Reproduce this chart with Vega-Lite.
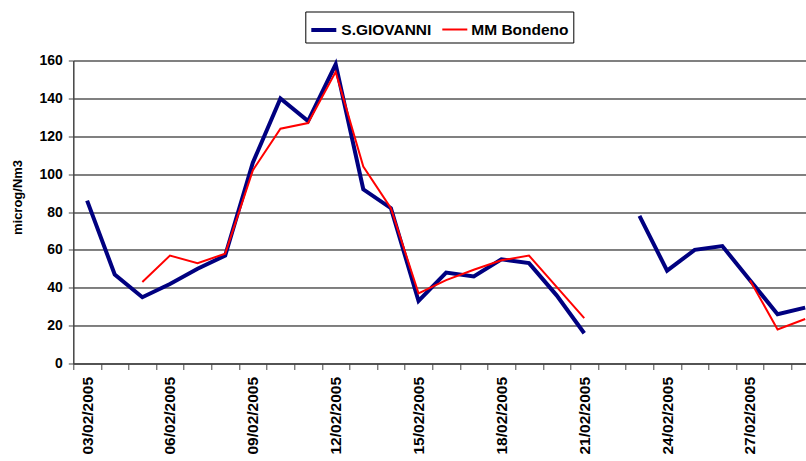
{
  "$schema": "https://vega.github.io/schema/vega-lite/v6.json",
  "autosize": "none",
  "width": 733,
  "height": 303,
  "padding": {"left": 73.3, "top": 60.5, "right": 0, "bottom": 97.5},
  "background": "white",
  "config": {"view": {"stroke": null}, "font": "Liberation Sans"},
  "data": {"values": [
    {"date": "2005-02-03", "series": "S.GIOVANNI", "value": 86},
    {"date": "2005-02-04", "series": "S.GIOVANNI", "value": 47},
    {"date": "2005-02-05", "series": "S.GIOVANNI", "value": 35},
    {"date": "2005-02-06", "series": "S.GIOVANNI", "value": 42},
    {"date": "2005-02-07", "series": "S.GIOVANNI", "value": 50},
    {"date": "2005-02-08", "series": "S.GIOVANNI", "value": 57},
    {"date": "2005-02-09", "series": "S.GIOVANNI", "value": 106},
    {"date": "2005-02-10", "series": "S.GIOVANNI", "value": 140},
    {"date": "2005-02-11", "series": "S.GIOVANNI", "value": 128},
    {"date": "2005-02-12", "series": "S.GIOVANNI", "value": 158},
    {"date": "2005-02-13", "series": "S.GIOVANNI", "value": 92},
    {"date": "2005-02-14", "series": "S.GIOVANNI", "value": 82},
    {"date": "2005-02-15", "series": "S.GIOVANNI", "value": 33},
    {"date": "2005-02-16", "series": "S.GIOVANNI", "value": 48},
    {"date": "2005-02-17", "series": "S.GIOVANNI", "value": 46},
    {"date": "2005-02-18", "series": "S.GIOVANNI", "value": 55},
    {"date": "2005-02-19", "series": "S.GIOVANNI", "value": 53},
    {"date": "2005-02-20", "series": "S.GIOVANNI", "value": 36},
    {"date": "2005-02-21", "series": "S.GIOVANNI", "value": 16},
    {"date": "2005-02-22", "series": "S.GIOVANNI", "value": null},
    {"date": "2005-02-23", "series": "S.GIOVANNI", "value": 78},
    {"date": "2005-02-24", "series": "S.GIOVANNI", "value": 49},
    {"date": "2005-02-25", "series": "S.GIOVANNI", "value": 60},
    {"date": "2005-02-26", "series": "S.GIOVANNI", "value": 62},
    {"date": "2005-02-27", "series": "S.GIOVANNI", "value": 44},
    {"date": "2005-02-28", "series": "S.GIOVANNI", "value": 26},
    {"date": "2005-03-01", "series": "S.GIOVANNI", "value": 29.5},
    {"date": "2005-02-03", "series": "MM Bondeno", "value": null},
    {"date": "2005-02-04", "series": "MM Bondeno", "value": null},
    {"date": "2005-02-05", "series": "MM Bondeno", "value": 43},
    {"date": "2005-02-06", "series": "MM Bondeno", "value": 57},
    {"date": "2005-02-07", "series": "MM Bondeno", "value": 53},
    {"date": "2005-02-08", "series": "MM Bondeno", "value": 58},
    {"date": "2005-02-09", "series": "MM Bondeno", "value": 102},
    {"date": "2005-02-10", "series": "MM Bondeno", "value": 124},
    {"date": "2005-02-11", "series": "MM Bondeno", "value": 127},
    {"date": "2005-02-12", "series": "MM Bondeno", "value": 154},
    {"date": "2005-02-13", "series": "MM Bondeno", "value": 104},
    {"date": "2005-02-14", "series": "MM Bondeno", "value": 82},
    {"date": "2005-02-15", "series": "MM Bondeno", "value": 37},
    {"date": "2005-02-16", "series": "MM Bondeno", "value": 44},
    {"date": "2005-02-17", "series": "MM Bondeno", "value": 49.5},
    {"date": "2005-02-18", "series": "MM Bondeno", "value": 54.5},
    {"date": "2005-02-19", "series": "MM Bondeno", "value": 57},
    {"date": "2005-02-20", "series": "MM Bondeno", "value": 40.5},
    {"date": "2005-02-21", "series": "MM Bondeno", "value": 24},
    {"date": "2005-02-22", "series": "MM Bondeno", "value": null},
    {"date": "2005-02-23", "series": "MM Bondeno", "value": null},
    {"date": "2005-02-24", "series": "MM Bondeno", "value": null},
    {"date": "2005-02-25", "series": "MM Bondeno", "value": null},
    {"date": "2005-02-26", "series": "MM Bondeno", "value": null},
    {"date": "2005-02-27", "series": "MM Bondeno", "value": 44},
    {"date": "2005-02-28", "series": "MM Bondeno", "value": 18},
    {"date": "2005-03-01", "series": "MM Bondeno", "value": 23.5}
  ]},
  "mark": {"type": "line", "invalid": "break-paths-show-domains", "strokeJoin": "miter", "strokeCap": "butt"},
  "encoding": {
    "x": {
      "field": "date", "type": "ordinal", "sort": "ascending", "bandPosition": 0.5,
      "scale": {"type": "band", "paddingInner": 0, "paddingOuter": 0, "range": [0, 745.7]},
      "axis": {
        "title": null, "tickBand": "extent", "grid": false,
        "domainColor": "#444", "domainWidth": 1.5, "tickColor": "#444", "tickWidth": 1, "tickSize": 6,
        "labelAngle": 270, "labelAlign": "right", "labelBaseline": "middle", "labelPadding": 7,
        "labelFont": "Liberation Sans", "labelFontSize": 15.5, "labelFontWeight": "bold", "labelColor": "black",
        "labelOverlap": false,
        "labelExpr": "indexof(['2005-02-03','2005-02-06','2005-02-09','2005-02-12','2005-02-15','2005-02-18','2005-02-21','2005-02-24','2005-02-27'], datum.value) >= 0 ? substring(datum.value,8,10) + '/' + substring(datum.value,5,7) + '/' + substring(datum.value,0,4) : ''"
      }
    },
    "y": {
      "field": "value", "type": "quantitative",
      "scale": {"domain": [0, 160], "nice": false, "zero": true},
      "axis": {
        "title": "microg/Nm3", "values": [0, 20, 40, 60, 80, 100, 120, 140, 160],
        "grid": true, "gridColor": "black", "gridWidth": 1, "gridOpacity": 1,
        "domainColor": "#444", "domainWidth": 1.5, "tickColor": "#444", "tickSize": 5, "tickWidth": 1,
        "labelFont": "Liberation Sans", "labelFontSize": 14, "labelFontWeight": "bold", "labelColor": "black", "labelPadding": 6,
        "titleFont": "Liberation Sans", "titleFontSize": 13, "titleFontWeight": "bold", "titleColor": "black",
        "titleAngle": 270, "titleX": -52, "titleY": 136.5, "titleAlign": "center", "titleBaseline": "alphabetic"
      }
    },
    "color": {
      "field": "series", "type": "nominal",
      "scale": {"domain": ["S.GIOVANNI", "MM Bondeno"], "range": ["#000080", "#FF0000"]},
      "legend": {
        "orient": "none", "legendX": 232, "legendY": -49, "direction": "horizontal", "title": null,
        "strokeColor": "black", "fillColor": "white", "padding": 4, "cornerRadius": 0,
        "labelFont": "Liberation Sans", "labelFontSize": 15.5, "labelFontWeight": "bold", "labelColor": "black",
        "symbolType": "stroke", "symbolSize": 625, "columnPadding": 6, "labelOffset": 3
      }
    },
    "strokeWidth": {
      "field": "series", "type": "nominal",
      "scale": {"domain": ["S.GIOVANNI", "MM Bondeno"], "range": [4, 2]},
      "legend": {
        "orient": "none", "legendX": 232, "legendY": -49, "direction": "horizontal", "title": null,
        "strokeColor": "black", "fillColor": "white", "padding": 4, "cornerRadius": 0,
        "labelFont": "Liberation Sans", "labelFontSize": 15.5, "labelFontWeight": "bold", "labelColor": "black",
        "symbolType": "stroke", "symbolSize": 625, "columnPadding": 6, "labelOffset": 3
      }
    }
  }
}
